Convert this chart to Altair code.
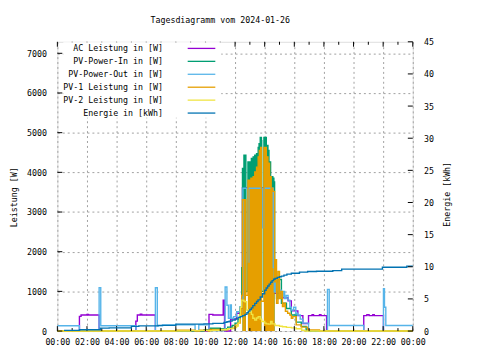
import altair as alt
import pandas as pd

TITLE = "Tagesdiagramm vom 2024-01-26"
SERIES = ["AC Leistung in [W]", "PV-Power-In in [W]", "PV-Power-Out in [W]",
          "PV-1 Leistung in [W]", "PV-2 Leistung in [W]", "Energie in [kWh]"]
COLORS = ["#9400d3", "#009e73", "#56b4e9", "#e69f00", "#f0e442", "#0072b2"]
X_TICKS = list(range(0, 25, 2))
Y_TICKS = list(range(0, 7001, 1000))
Y2_TICKS = list(range(0, 46, 5))

# AC Leistung [W]
AC_T = [0, 1.49, 1.6, 2.0, 2.1, 2.82, 5.3, 5.4, 5.6, 5.7, 6.62, 10.24, 10.5, 11.2, 11.29,
        11.7, 12.1, 12.35, 12.5, 14.6, 15.13, 15.58, 15.8, 16.24, 16.58, 16.96, 17.2, 17.3,
        17.7, 17.8, 18.18, 20.69, 20.9, 21.05, 21.3, 21.4, 22.02, 24]
AC_W = [0, 370, 405, 420, 405, 0, 250, 405, 425, 405, 0, 420, 405, 780, 0,
        300, 450, 580, 3610, 950, 840, 760, 510, 390, 190, 390, 410, 390,
        410, 390, 0, 390, 410, 390, 410, 390, 0, 0]

# PV-Power-In [W]
IN_T = [0, 9.9, 10.3, 11.0, 11.5, 11.8, 12.0, 12.2, 12.33, 12.45, 12.5, 12.6, 12.67, 12.73,
        12.87, 13.0, 13.1, 13.22, 13.33, 13.45, 13.56, 13.62, 13.7, 13.78, 13.8, 13.95, 14.0,
        14.11, 14.22, 14.29, 14.4, 14.55, 14.62, 14.67, 14.8, 14.9, 15.13, 15.47, 15.8, 16.13,
        16.47, 16.8, 17.0, 24]
IN_W = [0, 30, 70, 60, 100, 140, 200, 300, 600, 1600, 4100, 4430, 4430, 1000,
        4260, 4260, 4350, 4390, 4430, 4470, 4630, 4720, 4880, 4800, 1000, 4880, 4880,
        4680, 4550, 4260, 3890, 3850, 3760, 1300, 820, 1300, 700, 570, 405, 225,
        117, 20, 0, 0]

# PV-Power-Out [W]
OUT_T = [0, 1.49, 2.82, 2.93, 5.3, 6.62, 6.75, 7.1, 9.3, 9.55, 10.24, 11.33, 11.45, 11.55,
         11.67, 11.75, 11.9, 12.11, 12.33, 12.44, 12.53, 12.85, 12.92, 13.85, 13.95, 14.58,
         14.65, 14.72, 14.8, 14.9, 15.0, 15.13, 15.25, 15.35, 15.45, 15.58, 15.7, 15.8, 15.95,
         16.1, 16.24, 16.4, 16.58, 16.96, 18.24, 18.36, 20.69, 22.02, 22.09, 22.18, 24]
OUT_W = [132, 10, 1095, 132, 10, 1090, 132, 157, 10, 157, 10, 1110, 650, 323,
         655, 323, 365, 490, 615, 820, 3600, 1740, 3600, 2600, 3600, 1600,
         990, 1450, 1030, 1200, 1030, 860, 1000, 820, 900, 780, 600, 530, 600,
         450, 405, 300, 200, 10, 1050, 140, 10, 1070, 600, 140, 140]

# PV-1 Leistung [W]
PV1_T = [0, 8.0, 9.3, 9.6, 10.2, 10.3, 11.0, 11.5, 11.8, 12.0, 12.2, 12.35, 12.45, 12.5,
         12.73, 12.87, 13.07, 13.22, 13.33, 13.45, 13.56, 13.64, 13.73, 13.78, 13.95, 14.11,
         14.22, 14.33, 14.44, 14.55, 14.67, 14.75, 14.8, 14.9, 15.0, 15.1, 15.2, 15.3, 15.4,
         15.55, 15.7, 15.8, 15.9, 16.13, 16.47, 16.9, 17.7, 24]
PV1_W = [0, 20, 0, 20, 0, 40, 30, 60, 75, 150, 200, 400, 900, 3310,
         900, 3800, 3850, 3890, 4010, 4130, 4390, 4550, 4630, 750, 4630, 4390,
         4230, 3890, 3600, 3520, 1240, 1800, 700, 1500, 820, 1000, 615, 700, 500,
         450, 400, 323, 365, 157, 100, 25, 0, 0]

# PV-2 Leistung [W]
PV2_T = [0, 9.0, 10.5, 11.0, 11.5, 11.9, 12.1, 12.2, 12.3, 12.36, 12.45, 12.58, 12.67, 12.78,
         12.9, 13.0, 13.1, 13.2, 13.33, 13.45, 13.56, 13.7, 13.8, 14.0, 14.1, 14.25, 14.4,
         14.5, 14.7, 15.0, 15.2, 15.47, 15.8, 16.13, 16.5, 16.7, 24]
PV2_W = [0, 10, 20, 40, 60, 90, 117, 200, 400, 600, 780, 755, 740, 530,
         480, 505, 420, 323, 280, 330, 365, 300, 240, 200, 180, 175, 240,
         180, 140, 120, 110, 92, 80, 57, 20, 0, 0]

# Energie [kWh]
E_T = [0.45, 1.5, 2.9, 3.5, 5.0, 5.5, 6.8, 8.0, 9.9, 10.5, 11.25, 11.45, 11.6, 11.8, 12.0,
       12.2, 12.35, 12.5, 12.67, 12.8, 12.9, 13.0, 13.1, 13.2, 13.33, 13.45, 13.55, 13.7,
       13.85, 14.0, 14.1, 14.2, 14.3, 14.4, 14.5, 14.6, 14.7, 14.85, 15.0, 15.13, 15.3, 15.5,
       15.8, 16.35, 16.9, 17.5, 18.6, 19.2, 21.95, 23.6, 24]
E_KWH = [0.1, 0.2, 0.46, 0.5, 0.72, 0.8, 0.88, 1.07, 1.12, 1.2, 1.35, 1.45, 1.55, 1.7, 1.9,
         2.1, 2.25, 2.4, 2.6, 2.85, 3.1, 3.35, 3.6, 3.95, 4.3, 4.6, 4.85, 5.3,
         5.8, 6.35, 6.7, 7.0, 7.3, 7.6, 7.85, 8.05, 8.2, 8.35, 8.45, 8.55, 8.7, 8.85,
         9.0, 9.17, 9.27, 9.3, 9.4, 9.63, 9.93, 10.1, 10.1]

# time windows where PV-1 / PV-In oscillate so densely that they look filled
DENSE = [(12.5, 12.73), (12.87, 13.78), (13.95, 14.67)]

FONT = "DejaVu Sans Mono"
FS = 8.4
W, H = 360, 293
YMAX = 7290
SW = 1.4

TITLE_STYLE = dict(titleFont=FONT, titleFontSize=FS, titleFontWeight="normal", titleColor="black",
                   labelFont=FONT, labelFontSize=FS, labelColor="black")


def frame(ts, vs):
    return pd.DataFrame({"t": ts, "v": vs})


def fill_frame(ts, vs):
    return pd.DataFrame({"t": ts,
                         "v": [v if any(a <= t < b for a, b in DENSE) else 0 for t, v in zip(ts, vs)]})


X = alt.X("t:Q", scale=alt.Scale(domain=[0, 24], nice=False, zero=False),
          axis=alt.Axis(values=X_TICKS, grid=True, title=None, domain=False, ticks=False,
                        labelExpr="(datum.value % 24 < 10 ? '0' : '') + (datum.value % 24) + ':00'",
                        labelPadding=7, labelFlush=False, labelOverlap=False,
                        gridColor="#a0a0a0", gridDash=[2, 3], gridWidth=1, **TITLE_STYLE))
YP = alt.Y("v:Q", scale=alt.Scale(domain=[0, YMAX], nice=False),
           axis=alt.Axis(values=Y_TICKS, grid=True, format="d", domain=False, ticks=False,
                         labelPadding=11, title="Leistung [W]", titleAngle=270,
                         titleX=-44, titleY=157, titleAlign="center", titleBaseline="middle",
                         gridColor="#a0a0a0", gridDash=[2, 3], gridWidth=1, **TITLE_STYLE))


def line(df, color, sw=SW):
    return alt.Chart(df).mark_line(interpolate="step-after", color=color, strokeWidth=sw).encode(x=X, y=YP)


def fill(df, color):
    return alt.Chart(df).mark_area(interpolate="step-after", color=color, opacity=1).encode(x=X, y=YP)


layers = [
    line(frame(AC_T, AC_W), COLORS[0]),
    line(frame(IN_T, IN_W), COLORS[1]),
    fill(fill_frame(IN_T, IN_W), COLORS[1]),
    fill(fill_frame(PV1_T, PV1_W), COLORS[3]),
    line(frame(OUT_T, OUT_W), COLORS[2]),
    line(frame(PV1_T, PV1_W), COLORS[3]),
    line(frame(PV2_T, PV2_W), COLORS[4]),
]

# inward ticks
major = pd.DataFrame({"t": list(range(0, 25, 2))})
minor = pd.DataFrame({"t": list(range(1, 24, 2))})
for df, ln in ((major, 5), (minor, 3)):
    layers.append(alt.Chart(df).mark_rule(color="black", strokeWidth=1).encode(
        x=X, y=alt.value(H), y2=alt.value(H - ln)))
    layers.append(alt.Chart(df).mark_rule(color="black", strokeWidth=1).encode(
        x=X, y=alt.value(0), y2=alt.value(ln)))

# legend box (opaque, hides grid and top ticks)
box = alt.Chart(pd.DataFrame({"a": [0]})).mark_rect(color="white").encode(
    x=alt.value(6), x2=alt.value(166), y=alt.value(0.5), y2=alt.value(77))
layers.append(box)

layers.append(alt.Chart(pd.DataFrame({"v": Y_TICKS})).mark_rule(color="black", strokeWidth=1).encode(
    y=YP, x=alt.value(0), x2=alt.value(5)))

# legend rows
for i, (name, col) in enumerate(zip(SERIES, COLORS)):
    yy = 6.7 + 13.1 * i
    d = pd.DataFrame({"label": [name]})
    layers.append(alt.Chart(d).mark_text(align="right", baseline="middle", font=FONT,
                                         fontSize=FS, color="black").encode(
        text="label:N", x=alt.value(107), y=alt.value(yy)))
    layers.append(alt.Chart(d).mark_rule(color=col, strokeWidth=1.3).encode(
        x=alt.value(132), x2=alt.value(160), y=alt.value(yy)))

# title
layers.append(alt.Chart(pd.DataFrame({"label": [TITLE]})).mark_text(
    align="center", baseline="middle", font=FONT, fontSize=FS, color="black").encode(
    text="label:N", x=alt.value(165), y=alt.value(-22)))

power = alt.layer(*layers)

YE = alt.Y("v:Q", scale=alt.Scale(domain=[0, 45], nice=False),
           axis=alt.Axis(orient="right", values=Y2_TICKS, grid=False, domain=False, ticks=False,
                         labelPadding=11, title="Energie [kWh]", titleAngle=270,
                         titleX=34, titleY=154, titleAlign="center", titleBaseline="middle",
                         **TITLE_STYLE))
energy = alt.Chart(frame(E_T, E_KWH)).mark_line(interpolate="step-after", color=COLORS[5],
                                                strokeWidth=1.4).encode(x=X, y=YE)
rt = alt.Chart(pd.DataFrame({"v": Y2_TICKS})).mark_rule(color="black", strokeWidth=1).encode(
    y=YE, x=alt.value(W - 5), x2=alt.value(W))
energy_l = alt.layer(energy, rt)

chart = alt.layer(power, energy_l).resolve_scale(y="independent").properties(
    width=W, height=H,
    autosize=alt.AutoSizeParams(type="none"),
    padding={"left": 50, "top": 32, "right": 60, "bottom": 20},
).configure_view(stroke="black", strokeWidth=1).configure(background="white")

chart.save("out.html", embed_options={"renderer": "svg", "actions": False})
